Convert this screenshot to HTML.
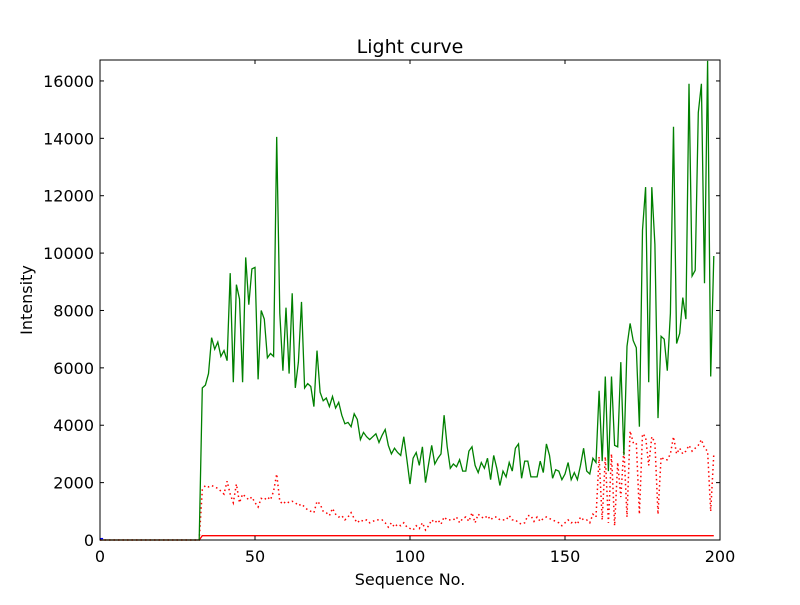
<!DOCTYPE html>
<html><head><meta charset="utf-8"><style>
body{margin:0;background:#fff;}
svg text{font-family:"DejaVu Sans","Liberation Sans",sans-serif;}
</style></head><body>
<svg id="chart" width="800" height="600" xmlns="http://www.w3.org/2000/svg">
<rect width="800" height="600" fill="#fff"/>
<g id="marks"></g>
<g id="axes"></g>
</svg>
<script>
const xTicks=[0,50,100,150,200];
const yTicks=[0,2000,4000,6000,8000,10000,12000,14000,16000];
const greenValues=[0,0,0,0,0,0,0,0,0,0,0,0,0,0,0,0,0,0,0,0,0,0,0,0,0,0,0,0,0,0,0,0,0,
5300,5400,5800,7050,6650,6900,6400,6600,6250,9300,5500,8900,8400,5500,9850,8200,9450,9500,5600,8000,7700,6350,6500,6400,14050,7900,5900,8100,5800,8600,5300,6200,8300,5300,5450,5350,4650,6600,5150,4850,4950,4650,5000,4600,4800,4350,4050,4100,3950,4400,4200,3500,3750,3600,3500,3600,3700,3400,3650,3850,3300,3000,3200,3050,2950,3600,2800,
1950,2850,3050,2600,3250,2000,2650,3300,2650,2850,3000,4350,3250,2500,2650,2550,2800,2400,2400,3100,3250,2600,2350,2700,2500,2850,2100,2950,2500,1900,2400,2200,2700,2400,3200,3350,2150,2750,2750,2200,2200,2200,2750,2350,3350,2950,2150,2450,2400,2100,
2300,2700,2100,2350,2100,2600,3200,2400,2300,2850,2700,5200,2750,5700,2400,5700,3300,3250,6200,2950,6750,7550,6950,6700,3950,10800,12300,5500,12300,10300,4250,7100,7000,5900,7900,14400,6850,7200,8450,7700,15900,9200,9400,14900,15900,8950,16700,5700,9900];
const redDotValues=[0,0,0,0,0,0,0,0,0,0,0,0,0,0,0,0,0,0,0,0,0,0,0,0,0,0,0,0,0,0,0,0,0,
1750,1900,1850,1900,1850,1800,1700,1600,2050,1600,1300,1950,1300,1600,1500,1400,1500,1300,1150,1450,1400,1500,1400,1700,2300,1350,1250,1350,1300,1350,1300,1200,1250,1150,1050,1000,950,1350,1250,1000,950,850,1100,900,800,850,700,800,950,750,600,700,650,700,600,650,700,700,700,600,450,600,450,550,500,600,450,
400,350,500,400,600,350,500,700,600,700,550,800,700,700,700,800,600,750,800,650,950,600,900,800,750,850,700,800,800,700,700,700,850,700,700,600,550,600,850,850,650,800,650,750,800,750,700,650,600,500,
600,700,600,650,550,800,700,700,600,900,800,2900,700,2900,600,3000,500,2700,1500,3200,800,3800,3400,3400,900,3700,3600,2600,3600,3400,900,2900,2800,2800,3000,3600,3000,3200,3000,3100,3300,3100,3200,3300,3500,3200,3100,1000,3000];
const redSolidValues=greenValues.map((v,i)=>i<33?0:150);
const blueValues=[50,50];
const X0=100,X1=720,Y0=540,Y1=60,XMAX=200,YMAX=16730;
const sx=v=>X0+v/XMAX*(X1-X0);
const sy=v=>Y0-v/YMAX*(Y0-Y1);
const NS="http://www.w3.org/2000/svg";
function mk(tag,attrs,parent){const e=document.createElementNS(NS,tag);for(const k in attrs)e.setAttribute(k,attrs[k]);parent.appendChild(e);return e;}
const marks=document.getElementById('marks'),axes=document.getElementById('axes');
function line(vals,color,dash,name){
  const d=vals.map((v,i)=>(i?'L':'M')+sx(i).toFixed(1)+','+sy(v).toFixed(1)).join('');
  const p=mk('path',{d:d,fill:'none',stroke:color,'stroke-width':dash?1.5:1.3},marks);
  if(dash)p.setAttribute('stroke-dasharray','1.5,3');
  
  
}
line(redDotValues,'#ff0000',true,'red-dotted-series');
line(redSolidValues,'#ff0000',false,'red-solid-series');
line(greenValues,'#008000',false,'green-series');
line(blueValues,'#0000ff',false,'blue-series');
const fr=mk('rect',{x:X0,y:Y1,width:X1-X0,height:Y0-Y1,fill:'none',stroke:'#000','stroke-width':1},axes);


xTicks.forEach(t=>{
  const x=sx(t);
  mk('line',{x1:x,x2:x,y1:Y0,y2:Y0-4,stroke:'#000'},axes);
  mk('line',{x1:x,x2:x,y1:Y1,y2:Y1+4,stroke:'#000'},axes);
  const tx=mk('text',{x:x,y:Y0+22,'text-anchor':'middle','font-size':16},axes);
  tx.textContent=t;
  
  
});
yTicks.forEach(t=>{
  const y=sy(t);
  mk('line',{x1:X0,x2:X0+4,y1:y,y2:y,stroke:'#000'},axes);
  mk('line',{x1:X1,x2:X1-4,y1:y,y2:y,stroke:'#000'},axes);
  const tx=mk('text',{x:X0-6,y:y+6,'text-anchor':'end','font-size':16},axes);
  tx.textContent=t;
  
  
});
</script>
<svg style="position:absolute;left:0;top:0" width="800" height="600">
<text x="410" y="53" text-anchor="middle" font-size="19" font-family="DejaVu Sans, Liberation Sans, sans-serif">Light curve</text>
<text x="410" y="585" text-anchor="middle" font-size="16" font-family="DejaVu Sans, Liberation Sans, sans-serif">Sequence No.</text>
<text x="32" y="300" text-anchor="middle" font-size="16" font-family="DejaVu Sans, Liberation Sans, sans-serif" transform="rotate(-90 32 300)">Intensity</text>
</svg>
</body></html>
